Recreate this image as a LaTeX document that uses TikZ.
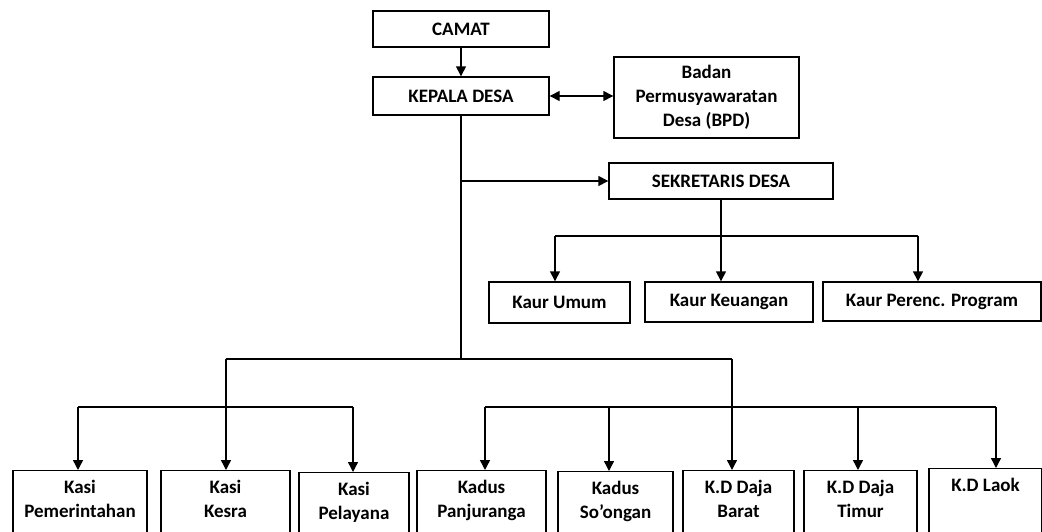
\documentclass[tikz,border=0pt]{standalone}
\usepackage{fontspec}
\setmainfont{Carlito}
\usetikzlibrary{arrows.meta}

\tikzset{
  box/.style={draw, line width=1.4pt, align=center, inner sep=0pt,
    font=\bfseries\fontsize{19}{24}\selectfont},
  lowbox/.style={box, anchor=north, text height=#1, text depth=90pt},
  lowbox/.default=47pt,
  link/.style={line width=1.4pt},
  arr/.style={link, -{Triangle[width=10pt,length=10pt]}},
  twoarr/.style={link, {Triangle[width=10pt,length=10pt]}-{Triangle[width=10pt,length=10pt]}}
}

\begin{document}
\begin{tikzpicture}[x=1pt, y=-1pt]
  \useasboundingbox (0,0) rectangle (1042,531);
  \clip (0,0) rectangle (1042,531);
  \path (461,29)    node[box, minimum width=176, minimum height=36] (camat) {CAMAT}
        (461,96)    node[box, minimum width=176, minimum height=38] (kepala) {KEPALA DESA}
        (706.5,97.5) node[box, minimum width=185, minimum height=81] (bpd) {Badan\\Permusyawaratan\\Desa (BPD)}
        (721,181)   node[box, minimum width=224, minimum height=36] (sekdes) {SEKRETARIS DESA}
        (559.5,302.5) node[box, minimum width=141, minimum height=41] (umum) {Kaur Umum}
        (729,302)   node[box, minimum width=168, minimum height=40] (keuangan) {Kaur Keuangan}
        (932,301.5) node[box, minimum width=218, minimum height=39] (program) {Kaur Perenc. Program};
  % baris bawah
  \path (80,470)    node[lowbox, minimum width=134] (pemerintahan) {Kasi\\Pemerintahan}
        (225.5,470) node[lowbox, minimum width=129] (kesra) {Kasi\\Kesra}
        (354,472)   node[lowbox, minimum width=110] (pelayana) {Kasi\\Pelayana}
        (481.5,470) node[lowbox, minimum width=129] (panjuranga) {Kadus\\Panjuranga}
        (615.5,471) node[lowbox, minimum width=115] (soongan) {Kadus\\So’ongan}
        (738.5,470) node[lowbox, minimum width=111] (barat) {K.D Daja\\Barat}
        (860.5,470) node[lowbox, minimum width=113] (timur) {K.D Daja\\Timur}
        (985.5,468) node[lowbox=23pt, minimum width=113] (laok) {K.D Laok};

  \coordinate (split) at (461,359);
  \coordinate (kaur) at (721,236);
  \coordinate (kaurL) at (555,236);
  \coordinate (kaurR) at (918,236);
  \coordinate (kasiTop) at (226,359);
  \coordinate (dusunTop) at (732,359);
  \coordinate (kasiL) at (78,407);
  \coordinate (kasiR) at (353,407);
  \coordinate (dusunL) at (485,407);
  \coordinate (dusunB) at (609,407);
  \coordinate (dusunD) at (858,407);
  \coordinate (dusunR) at (996,407);

  \draw [arr] (camat) -- (kepala);
  \draw [twoarr] (kepala.east) -- (kepala.east -| bpd.west);
  \draw [link] (kepala.south) -- (split);
  \draw [arr] (kepala.south |- sekdes) -- (sekdes.west);

  \draw [link] (sekdes.south) -- (kaur);
  \draw [link] (kaurL) -- (kaurR);
  \draw [arr] (kaurL) -- (kaurL |- umum.north);
  \draw [arr] (kaur) -- (kaur |- keuangan.north);
  \draw [arr] (kaurR) -- (kaurR |- program.north);

  \draw [link] (kasiTop) -- (dusunTop);
  \draw [link] (kasiL) -- (kasiR);
  \draw [link] (dusunL) -- (dusunR);
  \draw [arr] (kasiL) -- (kasiL |- pemerintahan.north);
  \draw [arr] (kasiTop) -- (kasiTop |- kesra.north);
  \draw [arr] (kasiR) -- (kasiR |- pelayana.north);
  \draw [arr] (dusunL) -- (dusunL |- panjuranga.north);
  \draw [arr] (dusunB) -- (dusunB |- soongan.north);
  \draw [arr] (dusunTop) -- (dusunTop |- barat.north);
  \draw [arr] (dusunD) -- (dusunD |- timur.north);
  \draw [arr] (dusunR) -- (dusunR |- laok.north);
\end{tikzpicture}
\end{document}
